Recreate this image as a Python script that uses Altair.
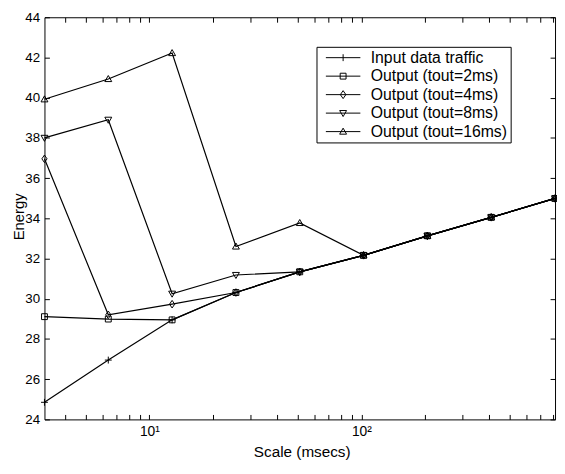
import altair as alt
import pandas as pd

# ---- data ----
scales = [3.2, 6.4, 12.8, 25.6, 51.2, 102.4, 204.8, 409.6, 819.2]
input_traffic = [24.85, 26.95, 28.95, 30.31, 31.34, 32.16, 33.13, 34.05, 34.99]
out_2ms = [29.11, 28.99, 28.95, 30.31, 31.34, 32.16, 33.13, 34.05, 34.99]
out_4ms = [36.96, 29.20, 29.73, 30.31, 31.34, 32.16, 33.13, 34.05, 34.99]
out_8ms = [38.00, 38.90, 30.25, 31.18, 31.34, 32.16, 33.13, 34.05, 34.99]
out_16ms = [39.92, 40.93, 42.22, 32.60, 33.77, 32.16, 33.13, 34.05, 34.99]

series_names = [
    "Input data traffic",
    "Output (tout=2ms)",
    "Output (tout=4ms)",
    "Output (tout=8ms)",
    "Output (tout=16ms)",
]
y_ticks = [24, 26, 28, 30, 32, 34, 36, 38, 40, 42, 44]
x_label_ticks = [10, 100]
x_minor_ticks = [4, 5, 6, 7, 8, 9, 10, 20, 30, 40, 50, 60, 70, 80, 90,
                 100, 200, 300, 400, 500, 600, 700, 800]

series_values = [input_traffic, out_2ms, out_4ms, out_8ms, out_16ms]
rows = []
for name, vals in zip(series_names, series_values):
    for s, v in zip(scales, vals):
        rows.append({"series": name, "scale": s, "energy": v})
df = pd.DataFrame(rows)

# ---- styles ----
FONT = "Liberation Sans"
W, H = 518, 408

marker_paths = [
    "M-1,0H1M0,-1V1",                       # plus
    "M-0.85,-0.85H0.85V0.85H-0.85Z",         # square
    "M0,-1.1L0.75,0L0,1.1L-0.75,0Z",         # diamond
    "M-1,-0.75L1,-0.75L0,1Z",                # triangle down
    "M-1,0.75L1,0.75L0,-1Z",                 # triangle up
]
legend_paths = [
    "M-1,0H1M0,-0.2V0.2",
    "M-1,0H1M-0.17,-0.17H0.17V0.17H-0.17Z",
    "M-1,0H1M0,-0.23L0.16,0L0,0.23L-0.16,0Z",
    "M-1,0H1M-0.2,-0.15L0.2,-0.15L0,0.2Z",
    "M-1,0H1M-0.2,0.15L0.2,0.15L0,-0.2Z",
]

xscale = alt.Scale(type="log", domain=[scales[0], scales[-1]], nice=False)
yscale = alt.Scale(domain=[y_ticks[0], y_ticks[-1]], nice=False, zero=False)

base = alt.Chart(df)

lines = base.mark_line(color="black", strokeWidth=1.2).encode(
    x=alt.X("scale:Q", scale=xscale, axis=alt.Axis(
        orient="bottom", values=x_label_ticks,
        labelExpr="datum.value == 10 ? '10¹' : '10²'",
        ticks=False, domain=False, grid=False, labelPadding=5,
        labelFontSize=14,
        title="Scale (msecs)", titleX=261, titleY=38, titleAlign="center",
        titleBaseline="alphabetic", titleFontSize=15.5)),
    y=alt.Y("energy:Q", scale=yscale, axis=alt.Axis(
        orient="left", values=y_ticks, ticks=False, domain=False, grid=False,
        labelPadding=5, labelFontSize=13.5,
        title="Energy", titleX=-21, titleY=202, titleAngle=-90,
        titleAlign="center", titleBaseline="alphabetic", titleFontSize=15)),
    detail="series:N",
)

points = base.mark_point(filled=False, color="black", size=49,
                         strokeWidth=1, opacity=1).encode(
    x=alt.X("scale:Q", scale=xscale, axis=alt.Axis(
        orient="top", offset=-H, values=x_minor_ticks, labels=False,
        tickSize=5, domain=False, grid=False, title=None)),
    y=alt.Y("energy:Q", scale=yscale, axis=alt.Axis(
        orient="left", offset=-W, values=y_ticks, labels=False,
        tickSize=5, domain=False, grid=False, title=None)),
    shape=alt.Shape("series:N", scale=alt.Scale(domain=series_names,
                                                range=marker_paths),
                    legend=None),
)

legend_layer = base.transform_filter("false").mark_point(
    filled=False, color="black", size=1225, strokeWidth=1, opacity=1
).encode(
    x=alt.X("scale:Q", scale=xscale, axis=alt.Axis(
        orient="bottom", offset=-H, values=x_minor_ticks, labels=False,
        tickSize=5, domain=False, grid=False, title=None)),
    y=alt.Y("energy:Q", scale=yscale, axis=alt.Axis(
        orient="right", offset=-W, values=y_ticks, labels=False,
        tickSize=5, domain=False, grid=False, title=None)),
    shape=alt.Shape("series:N", scale=alt.Scale(domain=series_names,
                                                range=legend_paths),
                    legend=alt.Legend(
                        title=None, orient="none", legendX=276, legendY=30,
                        symbolSize=1225, symbolStrokeWidth=1,
                        symbolStrokeColor="black",
                        symbolFillColor="transparent", symbolOpacity=1,
                        clipHeight=16, rowPadding=2.75, padding=3,
                        symbolOffset=6, labelOffset=10,
                        labelFont=FONT, labelFontSize=16, labelColor="black",
                        labelLimit=300, strokeColor="black",
                        fillColor="white")),
)

chart = alt.layer(lines, points, legend_layer).resolve_scale(
    shape="independent"
).resolve_axis(
    x="independent", y="independent"
).resolve_legend(
    shape="independent"
).properties(
    width=W, height=H,
    autosize=alt.AutoSizeParams(type="none"),
    padding={"left": 37, "top": 6, "right": 2, "bottom": 52},
    background="white",
).configure_view(
    stroke="black", strokeWidth=1
).configure_axis(
    labelFont=FONT, titleFont=FONT, labelColor="black", titleColor="black",
    tickColor="black", tickWidth=1, titleFontWeight="normal",
)

chart.save("out.html", embed_options={"renderer": "svg", "actions": False})
